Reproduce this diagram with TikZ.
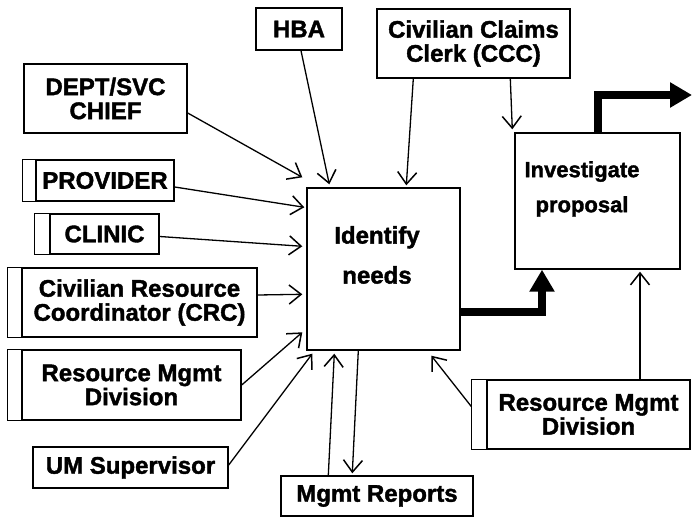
\documentclass[tikz,border=0pt]{standalone}
\usepackage{fontspec}
\setmainfont{Liberation Sans}[BoldFeatures={FakeBold=1.6}]
\usetikzlibrary{arrows.meta,calc}
\begin{document}
\begin{tikzpicture}[x=1pt,y={(0pt,-1pt)},
  every node/.style={font=\fontsize{24}{24}\selectfont\bfseries, align=center, inner sep=0pt},
  box/.style={draw, line width=1.4pt},
  stripline/.style={line width=1.4pt},
  arr/.style={line width=1.3pt, -{Straight Barb[length=12pt,width=19pt,line width=1.5pt]}},
  flow/.style={line width=8pt, -{Triangle[length=22pt,width=24pt]}}]
\useasboundingbox (0,0) rectangle (692,518);

% sources of information
\node[box, minimum width=86pt, minimum height=42pt] (hba) at (299,29) {HBA};
\node[box, minimum width=163pt, minimum height=69pt] (dept) at (105.5,98.5) {DEPT/SVC\\CHIEF};
\node[box, minimum width=138pt, minimum height=41pt] (prov) at (105,180.5) {PROVIDER};
\node[box, minimum width=109pt, minimum height=40pt] (clinic) at (104.5,234) {CLINIC};
\node[box, minimum width=235pt, minimum height=69pt] (crc) at (139.5,302.5) {Civilian Resource\\Coordinator (CRC)};
\node[box, minimum width=219pt, minimum height=70pt] (rmda) at (131.5,385) {Resource Mgmt\\Division};
\node[box, minimum width=195pt, minimum height=41pt] (um) at (130.5,467.5) {UM Supervisor};
\node[box, minimum width=193pt, minimum height=69pt] (ccc) at (473.5,43.5) {Civilian Claims\\Clerk (CCC)};
\node[box, minimum width=203pt, minimum height=69pt] (rmdb) at (588.5,414.5) {Resource Mgmt\\Division};
\node[box, minimum width=192pt, minimum height=40pt] (mrep) at (377,496) {Mgmt Reports};

% side strips of the external entities
\draw[stripline] (prov.north west) -- ++(-13,0) |- (prov.south west);
\draw[stripline] (clinic.north west) -- ++(-15,0) |- (clinic.south west);
\draw[stripline] (crc.north west) -- ++(-14,0) |- (crc.south west);
\draw[stripline] (rmda.north west) -- ++(-14,0) |- (rmda.south west);
\draw[stripline] (rmdb.north west) -- ++(-15,0) |- (rmdb.south west);

% processes
\node[box, minimum width=153pt, minimum height=162pt] (idn) at (383.5,269) {};
\node (idnlbl) at (377,255) {Identify\\[16pt]needs};
\node[box, minimum width=165pt, minimum height=136pt] (inv) at (597.5,201) {};
\node[font=\fontsize{22}{23}\selectfont\bfseries] (invlbl) at (582,189) {Investigate\\[12pt]proposal};

% inputs to "Identify needs"
\draw[arr] ([shift={(2,0)}]hba.south) -- ([shift={(23,-3)}]idn.north west);
\draw[arr] ([shift={(37,0)}]ccc.south west) -- ([shift={(100,-2)}]idn.north west);
\draw[arr] ([shift={(0,14.5)}]dept.east) -- ([shift={(-4,-10)}]idn.north west);
\draw[arr] ([shift={(0,6.5)}]prov.east) -- ([shift={(-2,20)}]idn.north west);
\draw[arr] ([shift={(0,2.5)}]clinic.east) -- ([shift={(-4,59)}]idn.north west);
\draw[arr] ([shift={(0,-7.5)}]crc.east) -- ([shift={(-4,107)}]idn.north west);
\draw[arr] (rmda.east) -- ([shift={(-4,145)}]idn.north west);
\draw[arr] ([shift={(0,-2.5)}]um.east) -- ([shift={(6,3)}]idn.south west);
\draw[arr] ([shift={(48,0)}]mrep.north west) -- ([shift={(28,3)}]idn.south west);
\draw[arr] ([shift={(-15,-8)}]rmdb.west) -- ([shift={(125,5)}]idn.south west);

% outputs
\draw[arr] ([shift={(52,0)}]idn.south west) -- ([shift={(72,-2)}]mrep.north west);

% inputs to "Investigate proposal"
\draw[arr] ([shift={(134,0)}]ccc.south west) -- ([shift={(-2,-3)}]inv.north west);
\draw[arr] ([shift={(51.5,0)}]rmdb.north) -- ([shift={(42.5,2)}]inv.south);

% main flow
\coordinate (outend) at (692,95);
\draw[flow] ([shift={(0,43)}]idn.east) -| ([shift={(-55.5,0)}]inv.south);
\draw[flow] (inv.north) |- (outend);
\end{tikzpicture}
\end{document}
